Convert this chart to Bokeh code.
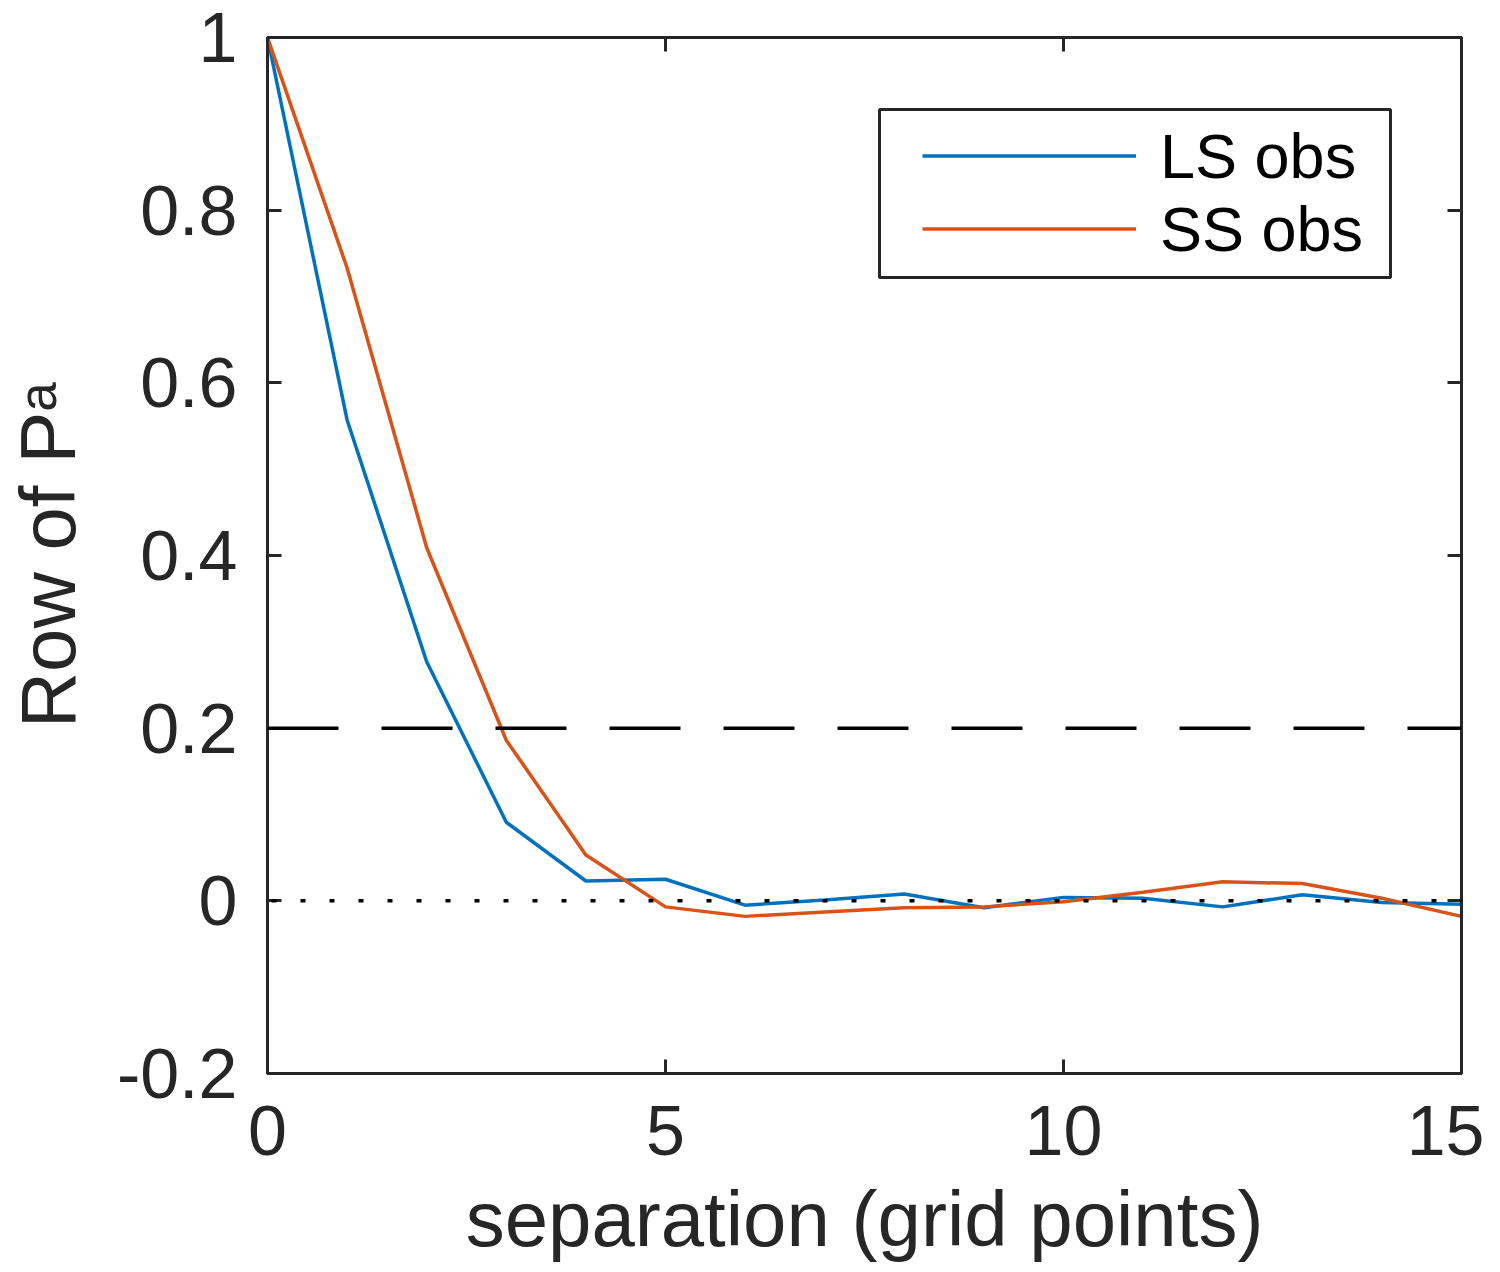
from bokeh.plotting import figure
from bokeh.models import (Range1d, FixedTicker, LinearAxis, Span, Legend, LegendItem,
                          BoxAnnotation, CustomJSTickFormatter)
from bokeh.embed import file_html
from bokeh.resources import INLINE

# data
sep = [0, 1, 2, 3, 4, 5, 6, 7, 8, 9, 10, 11, 12, 13, 14, 15]
ls_obs = [1.0, 0.557, 0.277, 0.091, 0.023, 0.025, -0.005, 0.001, 0.008, -0.008,
          0.004, 0.003, -0.007, 0.007, -0.002, -0.004]
ss_obs = [1.0, 0.733, 0.409, 0.186, 0.053, -0.007, -0.018, -0.013, -0.008, -0.007,
          -0.001, 0.010, 0.022, 0.020, 0.003, -0.018]
x_ticks = [0, 5, 10, 15]
y_ticks = [-0.2, 0, 0.2, 0.4, 0.6, 0.8, 1]
threshold = 0.2

FONT = "Liberation Sans"
AX = "#262626"

p = figure(width=1484, height=1268, output_backend="svg", toolbar_location=None,
           x_range=Range1d(0, 15), y_range=Range1d(-0.2, 1),
           min_border_left=267, min_border_right=23, min_border_top=37, min_border_bottom=195)
p.grid.visible = False
p.outline_line_color = AX
p.outline_line_width = 3
p.background_fill_color = "white"
p.border_fill_color = "white"

l1 = p.line(sep, ls_obs, line_color="#0072BD", line_width=3.5)
l2 = p.line(sep, ss_obs, line_color="#D95319", line_width=3.5)

p.add_layout(Span(location=threshold, dimension="width", line_color="black",
                  line_width=3.5, line_dash="71 43"))
p.add_layout(Span(location=0, dimension="width", line_color="black",
                  line_width=3.5, line_dash="5 24", line_dash_offset=-4))

# axes
p.xaxis.ticker = FixedTicker(ticks=x_ticks)
p.yaxis.ticker = FixedTicker(ticks=y_ticks)
p.yaxis.major_label_overrides = {t: f"{t:g}" for t in y_ticks}
p.xaxis.axis_label = "separation (grid points)"
p.yaxis.axis_label = "Row of P\u1d43"
for ax in [p.xaxis[0], p.yaxis[0]]:
    ax.axis_line_color = AX
    ax.axis_line_width = 3
    ax.major_tick_line_color = AX
    ax.major_tick_line_width = 3
    ax.major_tick_in = 14
    ax.major_tick_out = 0
    ax.minor_tick_line_color = None
    ax.major_label_text_font = FONT
    ax.major_label_text_font_size = "70px"
    ax.major_label_text_color = AX
    ax.axis_label_text_font = FONT
    ax.axis_label_text_font_size = "78px"
    ax.axis_label_text_font_style = "normal"
    ax.axis_label_text_color = AX
p.xaxis.major_label_standoff = 32
p.yaxis.major_label_standoff = 30
p.xaxis.axis_label_standoff = 17
p.yaxis.axis_label_standoff = 22

# mirrored ticks on top and right, no labels
for side, ticks in [("above", x_ticks), ("right", y_ticks)]:
    ax = LinearAxis(ticker=FixedTicker(ticks=ticks), axis_line_color=AX, axis_line_width=3,
                    major_tick_line_color=AX, major_tick_line_width=3,
                    major_tick_in=14, major_tick_out=0, minor_tick_line_color=None,
                    formatter=CustomJSTickFormatter(code="return ''"),
                    major_label_standoff=0)
    p.add_layout(ax, side)

# legend box and entries
p.add_layout(BoxAnnotation(left=879, right=1390, top=109, bottom=277,
                           left_units="canvas", right_units="canvas",
                           top_units="canvas", bottom_units="canvas",
                           fill_color="white", fill_alpha=1,
                           line_color=AX, line_alpha=1, line_width=3, level="annotation"))
legend = Legend(items=[LegendItem(label="LS obs", renderers=[l1]),
                       LegendItem(label="SS obs", renderers=[l2])],
                location=(655, 808), padding=0, margin=0, spacing=0,
                glyph_width=214, glyph_height=73, label_height=73,
                label_standoff=24, label_text_font=FONT, label_text_font_size="63px",
                label_text_color="black", border_line_alpha=0, background_fill_alpha=0)
p.add_layout(legend)

open("out.html", "w").write(file_html(p, INLINE))
